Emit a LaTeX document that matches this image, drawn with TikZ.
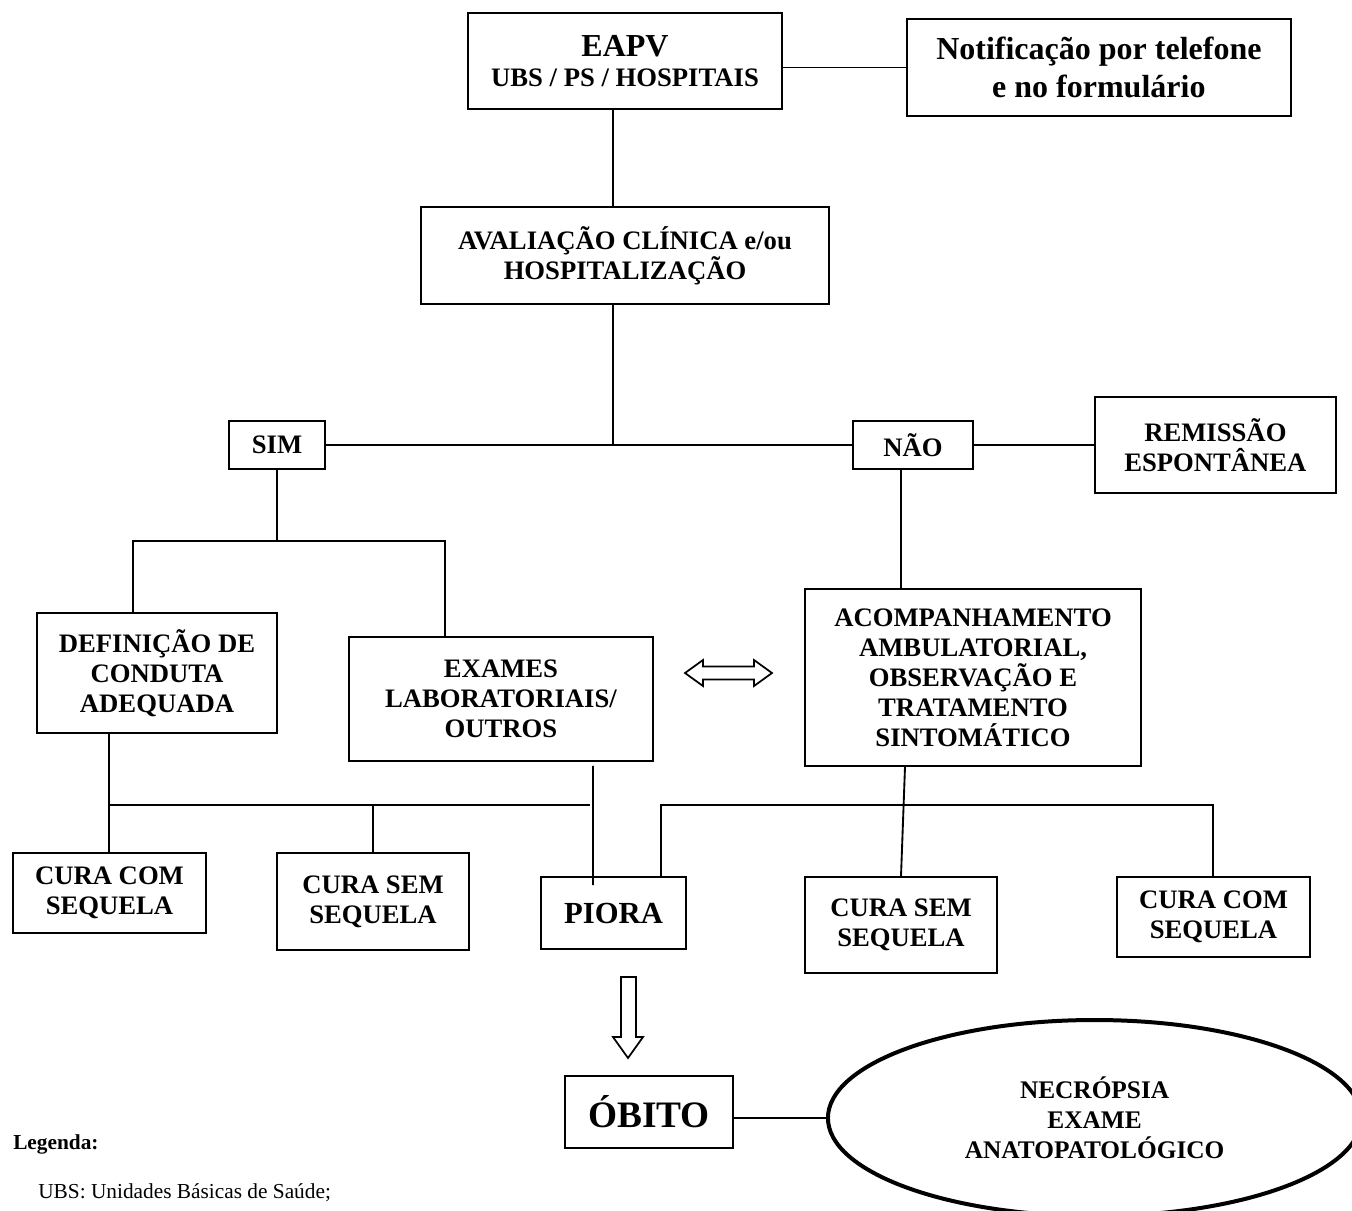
\documentclass[tikz,border=0pt]{standalone}
\usepackage{fontspec}
\setmainfont{Liberation Serif}
\usepackage{tikz}
\usetikzlibrary{shapes.geometric, positioning}

\begin{document}
\begin{tikzpicture}[
  x=0.75pt, y=-0.75pt,
  box/.style={rectangle, draw, line width=1.4pt, align=center, inner sep=2pt,
              font=\bfseries\fontsize{20}{22.5}\selectfont},
  oval/.style={ellipse, draw, line width=3pt, align=center, inner sep=0pt,
               font=\bfseries\fontsize{19}{22.5}\selectfont},
  link/.style={line width=1.4pt},
  blockarrow/.style={draw, line width=1.3pt, fill=white, line join=miter},
  legend/.style={anchor=base west, inner sep=0pt, font=\fontsize{16}{18}\selectfont}
]
  \useasboundingbox (0,0) rectangle (1352,1210);
  \clip (0,0) rectangle (1352,1210);

  \node[box, minimum width=235.5pt, minimum height=72pt] (eapv) at (625,61)
       {{\fontsize{24}{26}\selectfont EAPV}\\UBS / PS / HOSPITAIS};
  \node[box, minimum width=288pt, minimum height=72.75pt, font=\bfseries\fontsize{24}{28.5}\selectfont,
        right=92.25pt of eapv, yshift=-4.9pt] (notif) {Notificação por telefone\\e no formulário};
  \node[box, minimum width=306pt, minimum height=72.75pt, below=72pt of eapv] (aval)
       {AVALIAÇÃO CLÍNICA e/ou\\HOSPITALIZAÇÃO};

  \node[box, minimum width=72pt, minimum height=36pt] (sim) at (277,445) {SIM};
  \node[box, minimum width=90pt, minimum height=36pt] (nao) at (913,445) {NÃO};
  \node[box, minimum width=180.75pt, minimum height=72pt, right=90pt of nao] (remis)
       {REMISSÃO\\ESPONTÂNEA};

  \node[box, minimum width=180pt, minimum height=90pt] (def) at (157,673)
       {DEFINIÇÃO DE\\CONDUTA\\ADEQUADA};
  \node[box, minimum width=228pt, minimum height=93pt] (exames) at (501,699)
       {EXAMES\\LABORATORIAIS/\\OUTROS};
  \node[box, minimum width=252pt, minimum height=132.75pt] (acomp) at (973,677.5)
       {ACOMPANHAMENTO\\AMBULATORIAL,\\OBSERVAÇÃO E\\TRATAMENTO\\SINTOMÁTICO};

  \node[box, minimum width=144.75pt, minimum height=60pt] (curacomA) at (109.5,893) {CURA COM\\SEQUELA};
  \node[box, minimum width=144pt, minimum height=72.75pt] (curasemA) at (373,901.5) {CURA SEM\\SEQUELA};
  \node[box, minimum width=108.75pt, minimum height=54pt, font=\bfseries\fontsize{23}{26}\selectfont]
       (piora) at (613.5,913) {PIORA};
  \node[box, minimum width=144pt, minimum height=72pt] (curasemB) at (901,925) {CURA SEM\\SEQUELA};
  \node[box, minimum width=144.75pt, minimum height=60pt] (curacomB) at (1213.5,917) {CURA COM\\SEQUELA};

  \node[box, minimum width=126pt, minimum height=54pt, font=\bfseries\fontsize{28}{30}\selectfont]
       (obito) at (649,1112) {ÓBITO};
  \node[oval, minimum width=400pt, minimum height=147pt, right=69pt of obito, yshift=-4.5pt]
       (necro) {NECRÓPSIA\\EXAME\\ANATOPATOLÓGICO};

  \node[legend, font=\bfseries\fontsize{16}{18}\selectfont] (leg) at (13,1149) {Legenda:};
  \node[legend] (ubs) at (38,1198) {UBS: Unidades Básicas de Saúde;};

  \coordinate (hub)  at (613,445);
  \coordinate (simL) at (133,541);
  \coordinate (simR) at (445,541);
  \coordinate (busL) at (109,805);
  \coordinate (busLend) at (590,805);
  \coordinate (busR) at (661,805);
  \coordinate (busRend) at (1213,805);

  \draw[link] (eapv.east |- notif.west) -- (notif.west);
  \draw[link] (eapv.south -| hub) -- (aval.north -| hub);
  \draw[link] (aval.south -| hub) -- (hub);
  \draw[link] (sim.east) -- (nao.west);
  \draw[link] (nao.east) -- (remis.west);
  \draw[link] (sim.south) -- (sim.south |- simL);
  \draw[link] (def.north -| simL) -- (simL) -- (simR) -- (exames.north -| simR);
  \draw[link] ([xshift=-9pt]nao.south) -- ([xshift=-9pt]nao.south |- acomp.north);

  \draw[link] (def.south -| busL) -- (curacomA.north -| busL);
  \draw[link] (busL) -- (busLend);
  \draw[link] (curasemA.north |- busL) -- (curasemA.north);
  \draw[link] ([xshift=69pt,yshift=-3pt]exames.south) -- ([xshift=-15.4pt,yshift=-6.75pt]piora.north);
  \draw[link] (piora.north -| busR) -- (busR) -- (busRend) -- (curacomB.north -| busRend);
  \draw[link] ([xshift=-51pt]acomp.south) -- (curasemB.north);
  \draw[link] (necro.west) -- (necro.west -| obito.east);

  \draw[blockarrow] (685,673) -- ++(18,-13) -- ++(0,6.5) -- ++(51,0) -- ++(0,-6.5)
        -- ++(18,13) -- ++(-18,13) -- ++(0,-6.5) -- ++(-51,0) -- ++(0,6.5) -- cycle;
  \draw[blockarrow] (621,977) -- (636,977) -- (636,1037) -- (643,1037) -- (628,1058)
        -- (613,1037) -- (621,1037) -- cycle;
\end{tikzpicture}
\end{document}
